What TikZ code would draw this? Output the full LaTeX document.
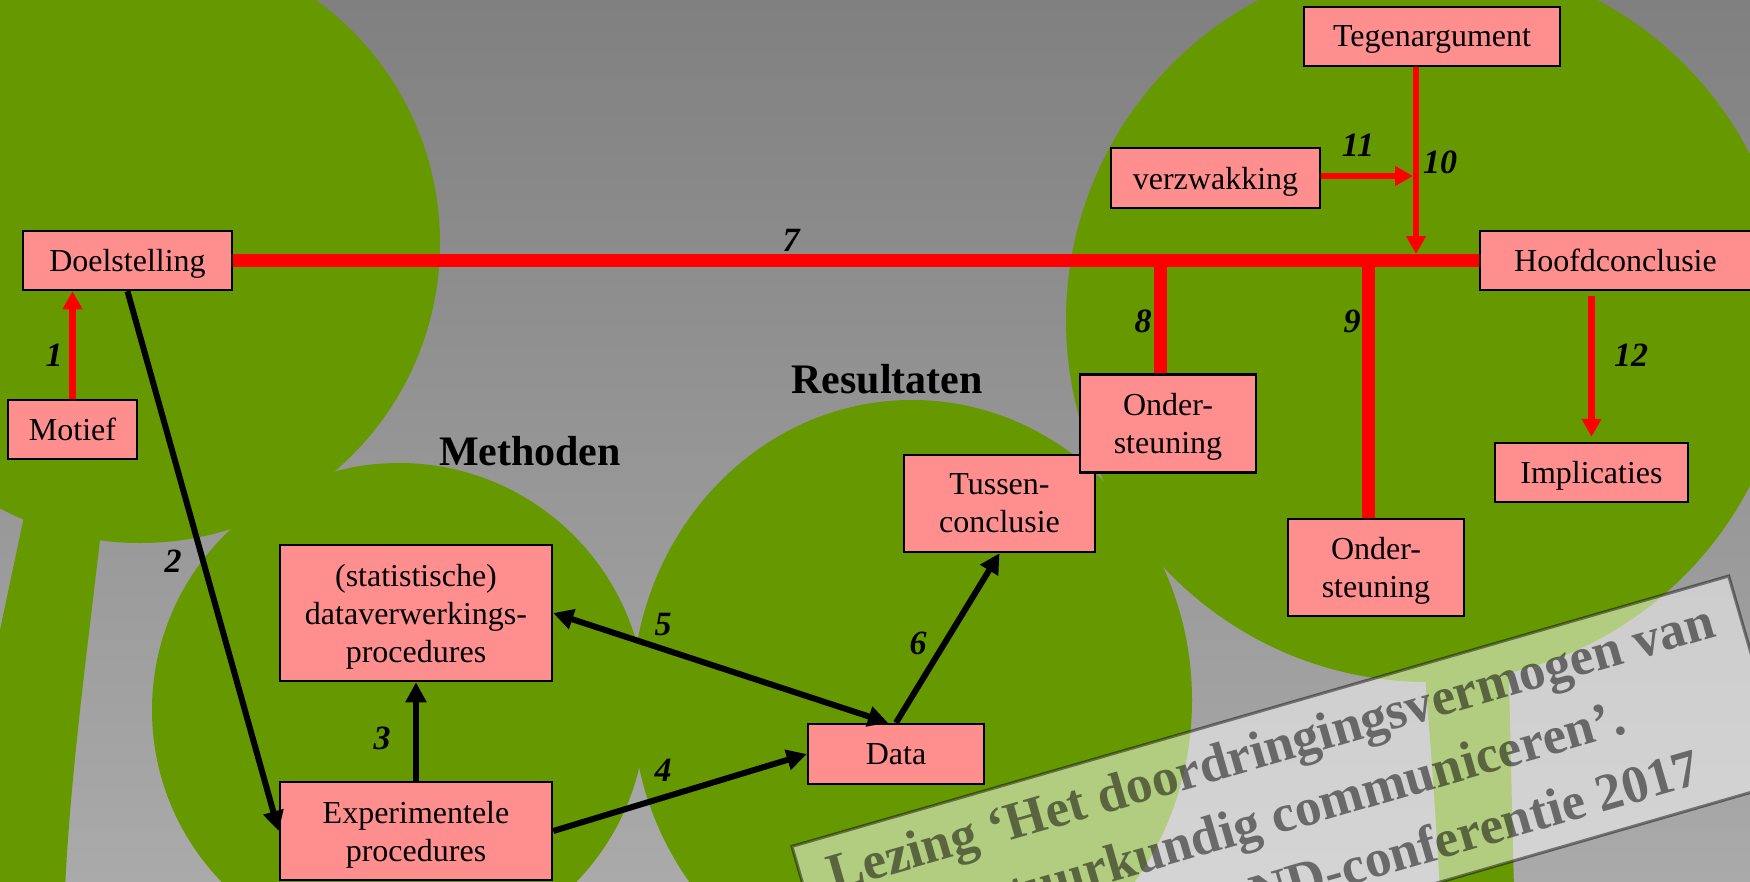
\documentclass[tikz,border=0pt]{standalone}
\usepackage{fontspec}
\setmainfont{Liberation Serif}
\usetikzlibrary{arrows.meta,calc}
\definecolor{tree}{RGB}{102,153,0}
\definecolor{boxpink}{RGB}{255,143,143}
\definecolor{bgtop}{RGB}{128,128,128}
\definecolor{bgbot}{RGB}{170,170,170}
\definecolor{arrred}{RGB}{255,0,0}
\begin{document}
\begin{tikzpicture}[x=1pt,y=-1pt,
  box/.style={draw=black,line width=2.5pt,fill=boxpink,font=\fontsize{32}{38}\selectfont,align=center,inner sep=0pt,text depth=0pt},
  num/.style={font=\fontsize{34}{38}\selectfont\bfseries\itshape,inner sep=0pt},
  head/.style={font=\fontsize{42}{48}\selectfont\bfseries,inner sep=0pt},
  blk/.style={draw=black,line width=6pt},
  bhead/.style={-{Triangle[length=20pt,width=20pt]}},
  redarr/.style={draw=arrred,line width=6.5pt,-{Triangle[length=18pt,width=19pt]}},
  redbar/.style={draw=arrred,line width=13pt},
  bantext/.style={font=\fontsize{53}{60}\selectfont\bfseries,text=black,text opacity=0.5,inner sep=0pt}]

\useasboundingbox (0,0) rectangle (1750,881);
\begin{scope}
\clip (0,0) rectangle (1750,881);
\shade[top color=bgtop,bottom color=bgbot] (0,0) rectangle (1750,881);
% tree shapes
\fill[tree] (140,243) circle[radius=300pt];
\fill[tree] (20,470) -- (105,470) -- (100,540) .. controls (86,660) and (70,780) .. (65,890) -- (-50,890) .. controls (-28,760) and (2,620) .. (25,512) -- cycle;
\fill[tree] (399,710) circle[radius=247pt];
\fill[tree] (912,700) ellipse[x radius=280pt,y radius=300pt];
\fill[tree] (1428,320) circle[radius=362pt];
\fill[tree] (1424,640) -- (1508,640) -- (1514,890) -- (1440,890) .. controls (1434,790) .. (1426,688) -- cycle;
\end{scope}

% headings
\node[head,anchor=base] (hMeth) at (530,465) {Methoden};
\node[head,anchor=base] (hRes) at (887,393) {Resultaten};

% boxes
\node[box,minimum width=209pt,minimum height=59pt] (doel) at (127.5,260.5) {Doelstelling};
\node[box,minimum width=129pt,minimum height=59pt] (motief) at (72.5,429.5) {Motief};
\node[box,minimum width=272pt,minimum height=136pt] (stat) at (416,613) {(statistische)\\dataverwerkings-\\procedures};
\node[box,minimum width=272pt,minimum height=98pt] (exp) at (416,831) {Experimentele\\procedures};
\node[box,minimum width=176pt,minimum height=60pt] (data) at (896,754) {Data};
\node[box,minimum width=191pt,minimum height=97pt] (tussen) at (999.5,503.5) {Tussen-\\conclusie};
\node[box,minimum width=176pt,minimum height=98pt] (onder1) at (1168,423.5) {Onder-\\steuning};
\node[box,minimum width=176pt,minimum height=97pt] (onder2) at (1376,567.5) {Onder-\\steuning};
\node[box,minimum width=193pt,minimum height=59pt] (impl) at (1591.5,472.5) {Implicaties};
\node[box,minimum width=271pt,minimum height=59pt] (hoofd) at (1615.5,260.5) {Hoofdconclusie};
\node[box,minimum width=256pt,minimum height=59pt] (tegen) at (1432,36.5) {Tegenargument};
\node[box,minimum width=209pt,minimum height=60pt] (verzw) at (1215.5,178) {verzwakking};

% black connectors
\draw[blk,bhead] (doel.south) -- (exp.west);
\draw[blk,bhead] (exp.north) -- (stat.south);
\draw[blk,bhead] (exp.east) -- (data.west);
\draw[blk,{Triangle[length=20pt,width=20pt]}-{Triangle[length=20pt,width=20pt]}] (stat.east) -- ([xshift=-8pt]data.north);
\draw[blk,bhead] (data.north) -- (tussen.south);

% red connectors
\draw[redarr] (motief.north) -- (motief.north |- doel.south);
\draw[redbar] (doel.east) -- (hoofd.west);
\coordinate (b8) at (1160,260.5);
\coordinate (b9) at (1368,260.5);
\draw[redbar] (b8) -- (b8 |- onder1.north);
\draw[redbar] (b9) -- (b9 |- onder2.north);
\coordinate (j10) at (1416,254);
\draw[redarr] (tegen.south -| j10) -- (j10);
\coordinate (j11) at (1413,176);
\draw[redarr] (verzw.east |- j11) -- (j11);
\draw[redarr,shorten <=5pt,shorten >=5pt] (impl.north |- hoofd.south) -- (impl.north);

% numbers
\node[num] (l1) at (54,355) {1};
\node[num] (l2) at (173,561) {2};
\node[num] (l3) at (382,738) {3};
\node[num] (l4) at (663,770) {4};
\node[num] (l5) at (663,625) {5};
\node[num] (l6) at (918,643) {6};
\node[num] (l7) at (791,240) {7};
\node[num] (l8) at (1143,321) {8};
\node[num] (l9) at (1352,321) {9};
\node[num] (l10) at (1440,162) {10};
\node[num] (l11) at (1358,145) {11};
\node[num] (l12) at (1631,355) {12};

% banner
\begin{scope}
\clip (0,0) rectangle (1750,881);
\begin{scope}[shift={(1290,814)},rotate=16.1,transform shape]
\node[draw=black,draw opacity=0.45,line width=3pt,fill=white,fill opacity=0.5,minimum width=975pt,minimum height=214pt,inner sep=0pt] (banner) at (0,0) {};
\node[bantext,anchor=base] (bt1) at (0,-52) {Lezing ‘Het doordringingsvermogen van};
\node[bantext,anchor=base] (bt2) at (0,16) {natuurkundig communiceren’.};
\node[bantext,anchor=base east] (bt3) at (406,85) {ND-conferentie 2017};
\end{scope}
\end{scope}
\end{tikzpicture}
\end{document}
